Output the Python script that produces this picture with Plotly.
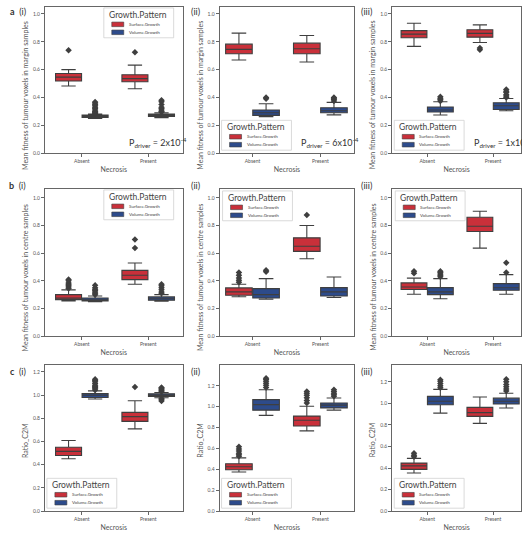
import plotly.graph_objects as go

W, H = 522, 541

CATEGORIES = ["Absent", "Present"]
GROUPS = ["Surface.Growth", "Volume.Growth"]
COLORS = {"Surface.Growth": "#c9303a", "Volume.Growth": "#2d4b8b"}
EDGE = "#3f3f3f"
FONT = "Lato"

Y_TITLES = ["Mean fitness of tumour voxels in margin samples",
            "Mean fitness of tumour voxels in centre samples",
            "Ratio_C2M"]
P_TEXT = ["2x10<sup>-4</sup>", "6x10<sup>-4</sup>", "1x10<sup>-4</sup>"]
ROW_LETTERS = ["a", "b", "c"]
ROMAN = ["(i)", "(ii)", "(iii)"]

# ---- data: lo / q1 / median / q3 / hi per category (Absent, Present) ----
A1_SURF = dict(lo=[0.482, 0.463], q1=[0.518, 0.513], med=[0.546, 0.535], q3=[0.572, 0.563], hi=[0.600, 0.632])
A1_VOL = dict(lo=[0.250, 0.255], q1=[0.257, 0.264], med=[0.262, 0.270], q3=[0.273, 0.280], hi=[0.280, 0.290])
A1_SURF_OUT = [[0.739], [0.724]]
A1_VOL_OUT = [[0.285, 0.29, 0.295, 0.30, 0.31, 0.32, 0.33, 0.34, 0.35, 0.36, 0.368],
              [0.295, 0.30, 0.31, 0.32, 0.33, 0.35, 0.37, 0.38]]

A2_SURF = dict(lo=[0.669, 0.655], q1=[0.714, 0.714], med=[0.745, 0.75], q3=[0.783, 0.79], hi=[0.862, 0.845])
A2_VOL = dict(lo=[0.262, 0.275], q1=[0.271, 0.29], med=[0.29, 0.305], q3=[0.31, 0.326], hi=[0.355, 0.365])
A2_SURF_OUT = [[], []]
A2_VOL_OUT = [[0.39, 0.40], [0.375, 0.385, 0.395, 0.40]]

A3_SURF = dict(lo=[0.767, 0.795], q1=[0.829, 0.833], med=[0.855, 0.86], q3=[0.88, 0.886], hi=[0.933, 0.921])
A3_VOL = dict(lo=[0.274, 0.305], q1=[0.295, 0.314], med=[0.31, 0.34], q3=[0.331, 0.362], hi=[0.369, 0.393])
A3_SURF_OUT = [[], [0.743, 0.755]]
A3_VOL_OUT = [[0.375, 0.385, 0.395, 0.405], [0.40, 0.41, 0.42, 0.435, 0.445, 0.457]]

B1_SURF = dict(lo=[0.255, 0.375], q1=[0.264, 0.409], med=[0.275, 0.44], q3=[0.30, 0.476], hi=[0.335, 0.529])
B1_VOL = dict(lo=[0.25, 0.252], q1=[0.255, 0.26], med=[0.262, 0.27], q3=[0.276, 0.284], hi=[0.29, 0.30])
B1_SURF_OUT = [[0.345, 0.355, 0.365, 0.375, 0.385, 0.40, 0.41], [0.637, 0.70]]
B1_VOL_OUT = [[0.30, 0.31, 0.32, 0.33, 0.34, 0.35, 0.368], [0.31, 0.32, 0.335, 0.35, 0.365, 0.375]]

B2_SURF = dict(lo=[0.285, 0.56], q1=[0.296, 0.613], med=[0.32, 0.65], q3=[0.349, 0.711], hi=[0.375, 0.80])
B2_VOL = dict(lo=[0.267, 0.279], q1=[0.276, 0.29], med=[0.30, 0.32], q3=[0.344, 0.351], hi=[0.416, 0.428])
B2_SURF_OUT = [[0.39, 0.405, 0.42, 0.44, 0.46], [0.877]]
B2_VOL_OUT = [[0.465, 0.476], []]

B3_SURF = dict(lo=[0.303, 0.637], q1=[0.337, 0.757], med=[0.355, 0.795], q3=[0.385, 0.86], hi=[0.42, 0.904])
B3_VOL = dict(lo=[0.27, 0.303], q1=[0.30, 0.332], med=[0.32, 0.35], q3=[0.351, 0.38], hi=[0.416, 0.445])
B3_SURF_OUT = [[0.455, 0.47], []]
B3_VOL_OUT = [[0.43, 0.44, 0.45, 0.46, 0.47], [0.46, 0.531]]

C1_SURF = dict(lo=[0.451, 0.709], q1=[0.48, 0.774], med=[0.515, 0.815], q3=[0.551, 0.851], hi=[0.609, 0.951])
C1_VOL = dict(lo=[0.966, 0.978], q1=[0.98, 0.989], med=[1.0, 1.0], q3=[1.014, 1.012], hi=[1.037, 1.022])
C1_SURF_OUT = [[], [1.07]]
C1_VOL_OUT = [[1.045, 1.055, 1.065, 1.075, 1.085, 1.10, 1.115, 1.127, 1.137],
              [0.95, 0.96, 0.97, 1.03, 1.04, 1.05, 1.06, 1.066]]

C2_SURF = dict(lo=[0.375, 0.769], q1=[0.397, 0.816], med=[0.425, 0.87], q3=[0.454, 0.91], hi=[0.51, 1.005])
C2_VOL = dict(lo=[0.917, 0.967], q1=[0.967, 0.989], med=[1.02, 1.015], q3=[1.068, 1.036], hi=[1.162, 1.083])
C2_SURF_OUT = [[0.525, 0.54, 0.555, 0.575, 0.595, 0.617], [1.035, 1.06, 1.085, 1.11, 1.13, 1.146]]
C2_VOL_OUT = [[1.185, 1.205, 1.225, 1.245, 1.26, 1.272], [1.10, 1.115, 1.13, 1.145, 1.162]]

C3_SURF = dict(lo=[0.354, 0.815], q1=[0.388, 0.88], med=[0.42, 0.915], q3=[0.446, 0.963], hi=[0.49, 1.06])
C3_VOL = dict(lo=[0.91, 0.957], q1=[0.988, 0.994], med=[1.02, 1.02], q3=[1.065, 1.049], hi=[1.13, 1.095])
C3_SURF_OUT = [[0.505, 0.52, 0.538], []]
C3_VOL_OUT = [[1.145, 1.165, 1.185, 1.205, 1.22], [1.115, 1.135, 1.155, 1.175, 1.20, 1.225]]

PANELS = [
    [(A1_SURF, A1_SURF_OUT, A1_VOL, A1_VOL_OUT), (A2_SURF, A2_SURF_OUT, A2_VOL, A2_VOL_OUT), (A3_SURF, A3_SURF_OUT, A3_VOL, A3_VOL_OUT)],
    [(B1_SURF, B1_SURF_OUT, B1_VOL, B1_VOL_OUT), (B2_SURF, B2_SURF_OUT, B2_VOL, B2_VOL_OUT), (B3_SURF, B3_SURF_OUT, B3_VOL, B3_VOL_OUT)],
    [(C1_SURF, C1_SURF_OUT, C1_VOL, C1_VOL_OUT), (C2_SURF, C2_SURF_OUT, C2_VOL, C2_VOL_OUT), (C3_SURF, C3_SURF_OUT, C3_VOL, C3_VOL_OUT)],
]

# ---- layout geometry (pixels) ----
COL_PX = [(45, 183), (220, 355), (393, 522)]
ROW_PX = [(7, 154), (190, 338), (367, 514)]
X_RANGES = [[-0.556, 1.519], [-0.485, 1.5], [-0.53, 1.424]]
Y_RANGES = [[[0, 1.05]] * 3, [[0, 1.065]] * 3, [[0, 1.26], [0, 1.40], [0, 1.357]]]
Y_TICKS = [[0, 0.2, 0.4, 0.6, 0.8, 1.0]] * 2 + [[0, 0.2, 0.4, 0.6, 0.8, 1.0, 1.2]]
LEGEND_POS = [["ur", "ll", "ll"], ["ur", "ul", "ul"], ["ll", "ll", "ll"]]
LABEL_YSHIFT = [-5, 3, -7]
YTITLE_SHIFT = [-15, -15, -2]

BOX_WIDTH = 0.4

fig = go.Figure()
shapes, annotations = [], []
layout = dict(width=W, height=H, margin=dict(l=0, r=0, t=0, b=0),
              paper_bgcolor="white", plot_bgcolor="white", boxmode="overlay",
              showlegend=False, font=dict(family=FONT, color="#444"))

for r in range(3):
    for c in range(3):
        k = r * 3 + c + 1
        sfx = "" if k == 1 else str(k)
        xa, ya = f"x{sfx}", f"y{sfx}"
        xn, yn = f"xaxis{sfx}", f"yaxis{sfx}"
        x0, x1 = COL_PX[c]
        y0, y1 = ROW_PX[r]
        pw, ph = x1 - x0, y1 - y0
        layout[xn] = dict(domain=[x0 / W, x1 / W], anchor=ya, range=X_RANGES[c],
                          tickvals=list(range(len(CATEGORIES))), ticktext=CATEGORIES,
                          showline=True, mirror=True, linecolor="#666", linewidth=1,
                          ticks="outside", ticklen=3, tickcolor="#666", showgrid=False, zeroline=False,
                          tickfont=dict(size=5, color="#555"),
                          title=dict(text="Necrosis", font=dict(size=7, color="#555"), standoff=3))
        layout[yn] = dict(domain=[1 - y1 / H, 1 - y0 / H], anchor=xa, range=Y_RANGES[r][c],
                          tickvals=Y_TICKS[r], tickformat=".1f",
                          showline=True, mirror=True, linecolor="#666", linewidth=1,
                          ticks="outside", ticklen=3, tickcolor="#666", showgrid=False, zeroline=False,
                          tickfont=dict(size=5, color="#555"))

        surf, surf_out, vol, vol_out = PANELS[r][c]
        for gi, (grp, st, outs) in enumerate([(GROUPS[0], surf, surf_out), (GROUPS[1], vol, vol_out)]):
            off = (gi - 0.5) * BOX_WIDTH
            xs = [i + off for i in range(len(CATEGORIES))]
            fig.add_trace(go.Box(x=xs, q1=st["q1"], median=st["med"], q3=st["q3"],
                                 lowerfence=st["lo"], upperfence=st["hi"], width=BOX_WIDTH * 0.98,
                                 fillcolor=COLORS[grp], line=dict(color=EDGE, width=1.1),
                                 whiskerwidth=0.55, boxpoints=False, name=grp,
                                 xaxis=xa, yaxis=ya, showlegend=False, hoverinfo="skip"))
            ox, oy = [], []
            for i, vals in enumerate(outs):
                ox += [i + off] * len(vals)
                oy += vals
            if oy:
                fig.add_trace(go.Scatter(x=ox, y=oy, mode="markers", xaxis=xa, yaxis=ya,
                                         marker=dict(symbol="diamond", size=5, color=EDGE,
                                                     line=dict(width=0)),
                                         showlegend=False, hoverinfo="skip"))

        fx = lambda px, pw=pw: px / pw
        fy = lambda px, ph=ph: px / ph
        xd, yd = f"{xa} domain", f"{ya} domain"

        # y-axis title
        annotations.append(dict(xref=xd, yref=yd, x=0, y=0.5, text=Y_TITLES[r], textangle=-90,
                                showarrow=False, xanchor="center", yanchor="middle",
                                xshift=-20, yshift=YTITLE_SHIFT[r],
                                font=dict(size=7, color="#555", family=FONT)))

        # manual legend (in domain fractions)
        lw, lh = 70, 30
        pos = LEGEND_POS[r][c]
        if pos == "ur":
            lx0, ly1 = pw - 9 - lw, ph - 1
        elif pos == "ul":
            lx0, ly1 = 3, ph - 2
        else:
            lx0, ly1 = 2, 3 + lh
        ly0 = ly1 - lh
        shapes.append(dict(type="rect", xref=xd, yref=yd, x0=fx(lx0), x1=fx(lx0 + lw),
                           y0=fy(ly0), y1=fy(ly1), fillcolor="rgba(255,255,255,0.85)",
                           line=dict(color="#d0d0d0", width=0.8), layer="above"))
        annotations.append(dict(xref=xd, yref=yd, x=fx(lx0 + 3), y=fy(ly1 - 7), text="Growth.Pattern",
                                showarrow=False, xanchor="left", yanchor="middle",
                                font=dict(size=8.5, color="#444", family=FONT)))
        for gi, grp in enumerate(GROUPS):
            cy = ly1 - 16.5 - gi * 8
            shapes.append(dict(type="rect", xref=xd, yref=yd, x0=fx(lx0 + 8), x1=fx(lx0 + 20),
                               y0=fy(cy - 2.3), y1=fy(cy + 2.3), fillcolor=COLORS[grp],
                               line=dict(color=EDGE, width=0.6), layer="above"))
            annotations.append(dict(xref=xd, yref=yd, x=fx(lx0 + 23), y=fy(cy), text=grp,
                                    showarrow=False, xanchor="left", yanchor="middle",
                                    font=dict(size=4.5, color="#444", family=FONT)))

        # panel label
        lbl = (f"<b>{ROW_LETTERS[r]}</b>  " if c == 0 else "") + ROMAN[c]
        annotations.append(dict(xref=xd, yref=yd, x=0, y=1, text=lbl, showarrow=False,
                                xanchor="right", yanchor="middle", xshift=-17 if c == 0 else -18,
                                yshift=LABEL_YSHIFT[r], font=dict(size=9, color="#333", family=FONT)))

        # p-value text for row a
        if r == 0:
            annotations.append(dict(xref=xa, yref=yd, x=1, y=fy(11), text=f"P<sub>driver</sub> = {P_TEXT[c]}",
                                    showarrow=False, xanchor="left", yanchor="middle", xshift=-21,
                                    font=dict(size=9, color="#333", family=FONT)))

layout["shapes"] = shapes
layout["annotations"] = annotations
fig.update_layout(**layout)
fig.write_html("out.html")
